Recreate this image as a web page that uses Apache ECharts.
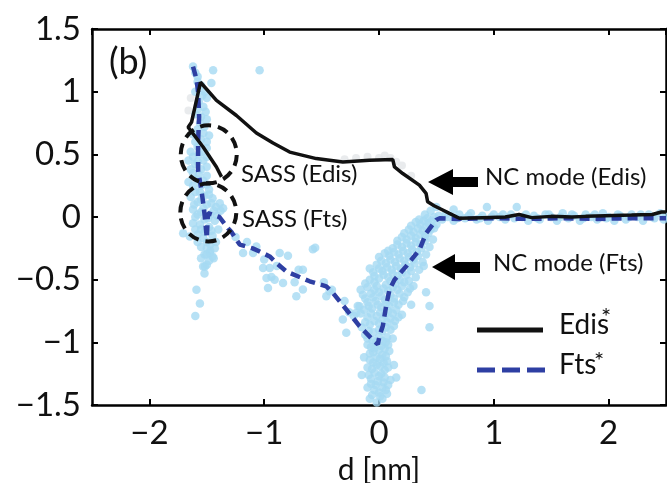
<!DOCTYPE html>
<html><head><meta charset="utf-8">
<script src="https://cdn.jsdelivr.net/npm/echarts@6/dist/echarts.min.js"></script>
<style>html,body{margin:0;padding:0;background:#fff}#c{width:667px;height:483px}</style>
</head><body><div id="c"></div>
<script>
// ---- data ----
const xTickValues = [-2, -1, 0, 1, 2];
const yTickValues = [-1.5, -1, -0.5, 0, 0.5, 1, 1.5];
const xLabelName = 'd [nm]';

// Edis* curve (solid black), in drawing order
const edisCurve = [
  [2.5, 0.04], [2.46, 0.04], [2.38, 0.02], [2.2, 0.015], [1.97, 0.01], [1.8, 0.005], [1.68, 0.0],
  [1.5, 0.005], [1.33, -0.005], [1.22, 0.02], [1.1, 0.0], [0.9, -0.005], [0.7, -0.01],
  [0.613, 0.029], [0.555, 0.056], [0.48, 0.09], [0.424, 0.121], [0.41, 0.188], [0.352, 0.254],
  [0.207, 0.347], [0.135, 0.399], [0.12, 0.458], [-0.083, 0.452], [-0.315, 0.439],
  [-0.546, 0.466], [-0.778, 0.518], [-0.923, 0.59], [-1.068, 0.67], [-1.242, 0.81],
  [-1.416, 0.93], [-1.555, 1.075], [-1.633, 0.756], [-1.663, 0.717], [-1.532, 0.558],
  [-1.416, 0.399], [-1.372, 0.32]
];

// Fts* curve (dashed blue), in drawing order
const ftsCurve = [
  [-1.62, 1.2], [-1.59, 1.1], [-1.576, 1.0], [-1.567, 0.8], [-1.576, 0.6], [-1.576, 0.37],
  [-1.546, 0.21], [-1.53, 0.1], [-1.517, 0.0], [-1.5, -0.17], [-1.49, 0.03], [-1.39, 0.0],
  [-1.315, -0.09], [-1.285, -0.12], [-1.213, -0.22], [-1.1, -0.25], [-1.04, -0.275],
  [-0.952, -0.315], [-0.894, -0.367], [-0.807, -0.434], [-0.604, -0.513], [-0.459, -0.553],
  [-0.401, -0.606], [-0.285, -0.738], [-0.17, -0.87], [-0.054, -0.98], [-0.01, -1.016],
  [0.004, -0.95], [0.033, -0.87], [0.062, -0.712], [0.091, -0.58], [0.135, -0.5],
  [0.236, -0.394], [0.352, -0.262], [0.41, -0.13], [0.497, -0.024], [0.53, -0.01],
  [0.7, -0.015], [1.0, -0.01], [1.3, -0.015], [1.6, -0.01], [1.9, -0.015], [2.2, -0.01], [2.5, -0.01]
];

// light-blue measurement cloud: left cluster near the SASS region
const cloudLeft = [
  [-1.62,1.2],[-1.6,1.15],[-1.58,1.12],[-1.55,1.05],[-1.52,1.0],[-1.5,0.95],[-1.6,1.0],[-1.57,0.92],
  [-1.53,0.88],[-1.55,0.8],[-1.5,0.78],[-1.6,0.82],[-1.52,0.72],[-1.58,0.7],[-1.48,0.65],[-1.55,0.62],
  [-1.6,0.6],[-1.5,0.55],[-1.57,0.5],[-1.62,0.48],[-1.53,0.45],[-1.6,0.42],[-1.66,0.45],[-1.55,0.38],
  [-1.62,0.35],[-1.5,0.33],[-1.58,0.3],[-1.66,0.28],[-1.55,0.25],[-1.48,0.22],[-1.6,0.2],[-1.52,0.17],
  [-1.45,0.15],[-1.58,0.12],[-1.5,0.1],[-1.42,0.08],[-1.62,0.06],[-1.55,0.04],[-1.47,0.02],[-1.38,0.05],
  [-1.6,0.0],[-1.52,-0.02],[-1.43,-0.03],[-1.56,-0.06],[-1.48,-0.08],[-1.62,-0.05],[-1.4,-0.1],
  [-1.52,-0.12],[-1.45,-0.15],[-1.58,-0.14],[-1.5,-0.2],[-1.42,-0.2],[-1.55,-0.24],[-1.47,-0.27],
  [-1.52,-0.3],[-1.44,-0.33],[-1.5,-0.38],[-1.52,-0.45],[-1.59,-0.58],[-1.56,-0.69],[-1.6,-0.79],
  [-1.445,1.17],[-1.46,1.07],[-1.04,1.17],[-1.387,0.109],[-1.358,0.069],[-1.706,-0.13],[-1.648,-0.156],
  [-1.474,-0.288],[-1.532,-0.394],[-1.45,-0.315],[-1.503,-0.30],[-1.517,-0.394],
  [-1.58,1.08],[-1.54,0.97],[-1.58,0.86],[-1.51,0.84],[-1.56,0.75],[-1.62,0.66],[-1.53,0.67],[-1.5,0.6],
  [-1.58,0.56],[-1.54,0.52],[-1.64,0.52],[-1.5,0.48],[-1.58,0.44],[-1.5,0.4],[-1.64,0.38],[-1.57,0.34],
  [-1.53,0.29],[-1.62,0.25],[-1.5,0.26],[-1.56,0.2],[-1.64,0.16],[-1.48,0.18],[-1.55,0.14],[-1.61,0.1],
  [-1.46,0.11],[-1.53,0.07],[-1.44,0.05],[-1.58,0.02],[-1.49,-0.01],[-1.41,0.01],[-1.55,-0.1],[-1.46,-0.11],
  [-1.6,-0.1],[-1.53,-0.17],[-1.47,-0.22],[-1.58,-0.2],[-1.5,-0.25],[-1.43,-0.25],[-1.55,-0.33],[-1.48,-0.35]
];
// points scattered along the descending Fts branch
const cloudSlope = [
  [-0.865,-0.288],[-0.793,-0.31],[-1.01,-0.407],[-0.937,-0.479],[-0.909,-0.5],[-0.967,-0.566],
  [-0.836,-0.526],[-0.735,-0.521],[-0.663,-0.421],[-0.576,-0.257],[-0.72,-0.633],[-0.663,-0.579],
  [-0.459,-0.633],[-0.43,-0.593],[-0.285,-0.923],[-0.17,-0.712],[-0.198,-0.765],[-0.315,-0.817],
  [-1.097,-0.288],[-0.952,-0.407],[-0.98,-0.487],[-1.068,-0.236],[-1.184,-0.288],[-0.556,-0.246],
  [-1.0,-0.34],[-0.89,-0.39],[-0.70,-0.42],[-0.48,-0.52],[-0.41,-0.58],[-1.25,-0.16],[-1.15,-0.2]
];
// V-shaped cloud around the contact point
const cloudV = [
  [-0.02,-1.48],[0.03,-1.45],[-0.06,-1.42],[0.0,-1.4],[0.06,-1.38],[-0.1,-1.36],[-0.03,-1.34],[0.04,-1.32],
  [-0.07,-1.29],[0.1,-1.3],[0.0,-1.27],[-0.04,-1.24],[0.05,-1.22],[-0.1,-1.2],[0.01,-1.19],[-0.05,-1.16],
  [0.07,-1.15],[-0.02,-1.12],[0.03,-1.1],[-0.08,-1.09],[0.09,-1.07],[-0.04,-1.05],[0.02,-1.03],[-0.1,-1.02],
  [0.06,-1.0],[-0.06,-0.98],[0.0,-0.96],[0.12,-0.97],[-0.15,-1.26],[0.15,-1.28],[0.37,-1.38],[-0.13,-1.12],
  [0.13,-1.18],
  [-0.08,-1.45],[0.01,-1.43],[0.07,-1.41],[-0.04,-1.38],[0.03,-1.36],[-0.07,-1.33],[0.08,-1.34],[-0.01,-1.31],
  [0.05,-1.28],[-0.09,-1.26],[0.02,-1.25],[-0.06,-1.21],[0.08,-1.2],[-0.02,-1.18],[0.04,-1.16],[-0.08,-1.14],
  [0.01,-1.13],[0.06,-1.11],[-0.05,-1.08],[0.0,-1.06],[0.05,-1.05],[-0.07,-1.04],[0.08,-1.02],[-0.03,-1.0],
  [0.03,-0.99],[-0.1,-0.97],[0.07,-0.96],
  [-0.12,-0.94],[-0.05,-0.92],[0.03,-0.91],[0.1,-0.9],[-0.15,-0.88],[-0.08,-0.86],[0.0,-0.85],[0.07,-0.84],
  [0.14,-0.83],[-0.1,-0.8],[-0.02,-0.79],[0.05,-0.78],[0.12,-0.77],[0.2,-0.78],[-0.13,-0.74],[-0.06,-0.73],
  [0.02,-0.72],[0.09,-0.71],[0.17,-0.7],[-0.1,-0.68],[-0.03,-0.67],[0.05,-0.66],[0.13,-0.65],[0.22,-0.64],
  [-0.14,-0.62],[-0.07,-0.61],[0.0,-0.6],[0.08,-0.59],[0.16,-0.58],[0.25,-0.6],[-0.1,-0.56],[-0.02,-0.55],
  [0.06,-0.54],[0.14,-0.53],[0.22,-0.52],[0.3,-0.55],[-0.185,-0.71],[-0.22,-0.79],[-0.26,-0.76],[-0.3,-0.67],
  [0.44,-0.88],[0.41,-0.6],[0.44,-0.71],[0.28,-0.7],
  [-0.09,-0.91],[0.0,-0.9],[0.06,-0.88],[0.13,-0.87],[-0.12,-0.84],[-0.04,-0.83],[0.03,-0.82],[0.1,-0.81],
  [0.17,-0.8],[-0.07,-0.77],[0.01,-0.76],[0.08,-0.75],[0.15,-0.74],[-0.16,-0.77],[-0.09,-0.71],[-0.01,-0.7],
  [0.06,-0.69],[0.13,-0.68],[0.21,-0.67],[-0.12,-0.65],[-0.05,-0.64],[0.02,-0.63],[0.1,-0.62],[0.18,-0.61],
  [-0.16,-0.58],[-0.04,-0.58],[0.04,-0.57],[0.12,-0.56],[0.2,-0.55],[0.27,-0.57],[-0.12,-0.53],[-0.04,-0.52],
  [0.1,-0.51],[0.18,-0.5],[0.26,-0.51],
  [-0.08,-0.5],[0.0,-0.49],[0.08,-0.48],[0.16,-0.47],[0.24,-0.46],[0.32,-0.48],[-0.05,-0.44],[0.03,-0.43],
  [0.11,-0.42],[0.19,-0.41],[0.27,-0.4],[0.35,-0.42],[-0.02,-0.38],[0.06,-0.37],[0.14,-0.36],[0.22,-0.35],
  [0.3,-0.34],[0.38,-0.36],[0.0,-0.32],[0.09,-0.31],[0.17,-0.3],[0.25,-0.29],[0.33,-0.28],[0.41,-0.3],
  [0.12,-0.25],[0.2,-0.24],[0.28,-0.23],[0.36,-0.22],[0.44,-0.24],[0.16,-0.19],[0.24,-0.18],[0.32,-0.17],
  [0.4,-0.16],[0.47,-0.18],[0.22,-0.13],[0.3,-0.12],[0.38,-0.11],[0.45,-0.1],[0.28,-0.07],[0.36,-0.06],
  [0.43,-0.05],[0.5,-0.06],[0.35,-0.02],[0.42,-0.01],[0.48,0.0],[0.55,-0.02],[0.45,0.05],[0.5,0.08],
  [-0.04,-0.47],[0.04,-0.46],[0.12,-0.45],[0.2,-0.44],[0.28,-0.43],[-0.08,-0.41],[0.0,-0.41],[0.07,-0.4],
  [0.15,-0.39],[0.23,-0.38],[0.31,-0.37],[0.39,-0.39],[0.02,-0.35],[0.1,-0.34],[0.18,-0.33],[0.26,-0.32],
  [0.34,-0.31],[0.05,-0.29],[0.13,-0.28],[0.21,-0.27],[0.29,-0.26],[0.37,-0.25],[0.08,-0.27],[0.16,-0.22],
  [0.24,-0.21],[0.32,-0.2],[0.4,-0.19],[0.2,-0.16],[0.28,-0.15],[0.36,-0.14],[0.43,-0.13],[0.26,-0.1],
  [0.34,-0.09],[0.41,-0.08],[0.48,-0.09],[0.32,-0.04],[0.39,-0.03],[0.46,-0.03],[0.4,0.02],[0.52,0.01]
];
// flat non-contact region
const cloudFlat = [
  [0.6,0.0],[0.65,-0.03],[0.7,0.02],[0.75,-0.01],[0.8,0.03],[0.85,-0.02],[0.9,0.01],[0.95,-0.03],
  [1.0,0.02],[1.05,0.0],[1.1,-0.02],[1.15,0.02],[1.2,0.08],[1.25,0.0],[1.3,-0.03],[1.35,0.01],
  [1.4,-0.02],[1.45,0.02],[1.5,0.0],[1.55,-0.03],[1.6,0.03],[1.65,-0.01],[1.7,0.01],[1.75,-0.03],
  [1.8,0.02],[1.85,0.0],[1.9,-0.02],[1.95,0.03],[2.0,0.0],[2.05,-0.03],[2.1,0.01],[2.15,-0.02],
  [2.2,0.02],[2.25,0.0],[2.3,-0.03],[2.35,0.02],[2.4,-0.01],[2.45,0.03],[2.5,0.0],[0.94,0.08],[0.65,0.06],
  [0.58,0.02],[0.68,-0.01],[0.78,0.01],[0.88,-0.01],[0.98,0.0],[1.08,0.02],[1.18,-0.01],[1.28,0.02],
  [1.38,-0.01],[1.48,0.02],[1.58,0.0],[1.68,0.02],[1.78,-0.01],[1.88,0.02],[1.98,-0.01],[2.08,0.02],
  [2.18,0.0],[2.28,0.02],[2.38,0.0],[2.48,-0.02]
];

// faint grey points behind the Edis curve
const greyPoints = [
  [-0.3,0.46],[-0.2,0.47],[-0.1,0.48],[0.0,0.47],[0.05,0.49],[0.1,0.47],[0.15,0.44],[0.2,0.41],
  [-1.64,0.95],[-1.66,0.85],[0.28,0.33]
];

// annotation anchors (data coordinates)
const ellipseCenters = [[-1.483, 0.5], [-1.487, 0.036]];

const FONT = 'Lato';
const fmt = v => String(v).replace('-', '\u2212');

const chart = echarts.init(document.getElementById('c'), null, {renderer: 'canvas'});
const axisCommon = {
  type: 'value',
  axisLine: {show: true, onZero: false, lineStyle: {color: '#000', width: 2.5}},
  axisTick: {show: true, inside: true, length: 6, lineStyle: {color: '#000', width: 2}},
  splitLine: {show: false}
};
const cloudStyle = {type: 'scatter', symbol: 'circle', symbolSize: 8.5,
  itemStyle: {color: '#a5d9f3'}, z: 2, silent: true};
chart.setOption({
  animation: false,
  backgroundColor: '#fff',
  grid: {left: 92, right: 1, top: 29, bottom: 78, outerBoundsMode: 'none', containLabel: false},
  xAxis: [
    Object.assign({}, axisCommon, {
      min: -2.5, max: 2.5, splitNumber: 5, position: 'bottom',
      axisLabel: {show: true, fontFamily: FONT, fontSize: 33, color: '#111', margin: 12,
        showMinLabel: false, showMaxLabel: false,
        formatter: v => (xTickValues.includes(v) ? fmt(v) : '')},
      name: xLabelName, nameLocation: 'middle', nameGap: 49,
      nameTextStyle: {fontFamily: FONT, fontSize: 30, color: '#111'}
    }),
    Object.assign({}, axisCommon, {
      min: -2.5, max: 2.5, splitNumber: 5, position: 'top', axisLabel: {show: false}
    })
  ],
  yAxis: [
    Object.assign({}, axisCommon, {
      min: -1.5, max: 1.5, interval: 0.5, position: 'left',
      axisLabel: {show: true, fontFamily: FONT, fontSize: 33, color: '#111', margin: 11,
        formatter: v => (yTickValues.includes(v) ? fmt(v) : '')}
    }),
    Object.assign({}, axisCommon, {
      min: -1.5, max: 1.5, interval: 0.5, position: 'right', axisLabel: {show: false}
    })
  ],
  series: [
    {type: 'scatter', data: greyPoints, symbol: 'circle', symbolSize: 8,
      itemStyle: {color: '#e3e6e8'}, z: 1, silent: true},
    Object.assign({data: cloudLeft}, cloudStyle),
    Object.assign({data: cloudSlope}, cloudStyle),
    Object.assign({data: cloudV}, cloudStyle),
    Object.assign({data: cloudFlat}, cloudStyle),
    {name: 'Fts*', type: 'line', data: ftsCurve, showSymbol: false, z: 3,
      lineStyle: {color: '#2e3fa3', width: 4.5, type: [10, 6]}},
    {name: 'Edis*', type: 'line', data: edisCurve, showSymbol: false, z: 4,
      lineStyle: {color: '#111', width: 3.5}}
  ]
});

const graphics = [];
ellipseCenters.forEach(c => {
  const p = chart.convertToPixel({xAxisIndex: 0, yAxisIndex: 0}, c);
  graphics.push({type: 'ellipse', shape: {cx: p[0], cy: p[1], rx: 28, ry: 29}, z: 10,
    style: {fill: null, stroke: '#111', lineWidth: 4, lineDash: [11, 7]}});
});
const txt = (text, x, y, size) => ({type: 'text', left: x, top: y - size * 0.62, z: 10,
  style: {text: text, fontFamily: FONT, fontSize: size, fill: '#111'}});
graphics.push(txt('(b)', 109, 67, 36));
graphics.push(txt('SASS (Edis)', 241, 177, 24));
graphics.push(txt('SASS (Fts)', 242, 222, 24));
graphics.push(txt('NC mode (Edis)', 485, 180, 24));
graphics.push(txt('NC mode (Fts)', 493, 266, 24));
graphics.push({type: 'polygon', z: 10, shape: {points: [[428,182],[453,169],[453,177],[478,177],[478,187],[453,187],[453,195]]}, style: {fill: '#000'}});
graphics.push({type: 'polygon', z: 10, shape: {points: [[432,267],[455,254],[455,262],[480,262],[480,273],[455,273],[455,280]]}, style: {fill: '#000'}});
// legend
graphics.push({type: 'line', z: 10, shape: {x1: 477, y1: 330, x2: 543, y2: 330}, style: {stroke: '#111', lineWidth: 5}});
graphics.push({type: 'line', z: 10, shape: {x1: 477, y1: 370, x2: 547, y2: 370}, style: {stroke: '#2e3fa3', lineWidth: 5, lineDash: [18, 7]}});
graphics.push(txt('Edis', 559, 328, 28));
graphics.push(txt('*', 601, 320, 24));
graphics.push(txt('Fts', 559, 368, 28));
graphics.push(txt('*', 594, 364, 24));
chart.setOption({graphic: graphics});
</script></body></html>
